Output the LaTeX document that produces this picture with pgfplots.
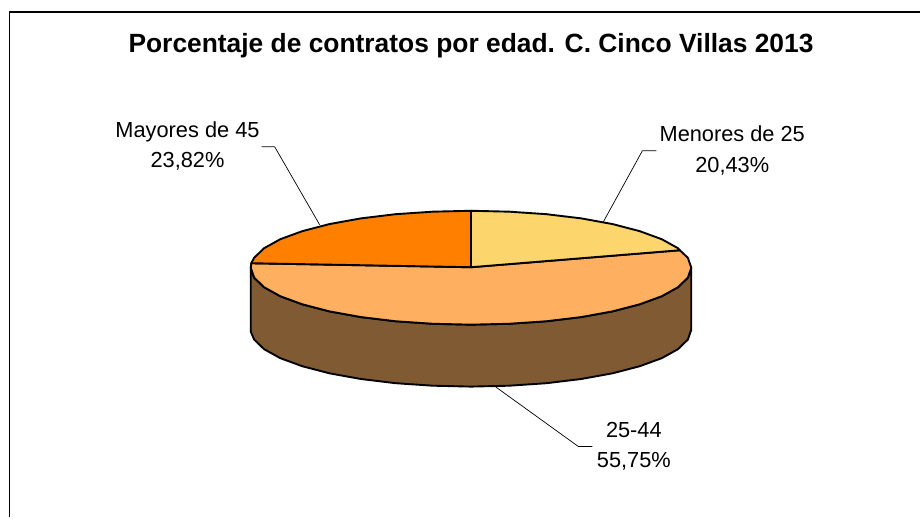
\documentclass[border=0pt]{standalone}
\usepackage{fontspec}
\setmainfont{Liberation Sans}
\usepackage{pgfplots}
\pgfplotsset{compat=1.18}
\definecolor{menores}{HTML}{FCD66C}
\definecolor{medio}{HTML}{FFAF60}
\definecolor{mayores}{HTML}{FF8000}
\definecolor{lado}{HTML}{7F5A33}

\begin{document}
\begin{tikzpicture}
\begin{axis}[
  scale only axis,width=921pt,height=518pt,
  xmin=0,xmax=921,ymin=0,ymax=518,y dir=reverse,
  ticks=none,axis line style={draw=none},clip=false,
  every axis plot/.append style={line join=round}
]
% marco
\addplot[black,line width=1.9pt] coordinates {(9.5,518) (9.5,11.8) (921,11.8)};
% lineas de etiqueta
\addplot[black,line width=0.7pt] coordinates {(262,147) (275,147) (320,225)};
\addplot[black,line width=0.7pt] coordinates {(657,151) (643,151) (604,222)};
\addplot[black,line width=0.7pt] coordinates {(493,385) (579,447) (593,447)};
% lateral
\addplot[fill=lado,draw=black,line width=1.9pt] coordinates {
 (692,268) (688.6,277.9) (678.7,287.5) (662.5,296.5) (640.4,304.6) (613.2,311.7)
 (581.8,317.4) (546.9,321.6) (509.8,324.1) (471.5,325) (433.2,324.1) (396.1,321.6)
 (361.3,317.4) (329.8,311.7) (302.6,304.6) (280.5,296.5) (264.3,287.5) (254.4,277.9)
 (251,268) (251,332) (254.4,339.9) (264.3,349.5) (280.5,358.5) (302.6,366.6)
 (329.8,373.7) (361.3,379.4) (396.1,383.6) (433.2,386.1) (471.5,387) (509.8,386.1)
 (546.9,383.6) (581.8,379.4) (613.2,373.7) (640.4,366.6) (662.5,358.5) (678.7,349.5)
 (688.6,339.9) (692,330) (692,268)} -- cycle;
% 25-44
\addplot[fill=medio,draw=black,line width=1.9pt] coordinates {
 (471.5,267.5) (680.5,250.5) (688.6,258.1) (692,268) (688.6,277.9) (678.7,287.5)
 (662.5,296.5) (640.4,304.6) (613.2,311.7) (581.8,317.4) (546.9,321.6) (509.8,324.1)
 (471.5,325) (433.2,324.1) (396.1,321.6) (361.3,317.4) (329.8,311.7) (302.6,304.6)
 (280.5,296.5) (264.3,287.5) (254.4,277.9) (251,268) (251.5,263.5)} -- cycle;
% mayores de 45
\addplot[fill=mayores,draw=black,line width=1.9pt] coordinates {
 (471.5,267.5) (251.5,263.5) (254.4,258.1) (264.3,248.5) (280.5,239.5) (302.6,231.4)
 (329.8,224.3) (361.3,218.6) (396.1,214.4) (433.2,211.9) (471.5,211)} -- cycle;
% menores de 25
\addplot[fill=menores,draw=black,line width=1.9pt] coordinates {
 (471.5,267.5) (471.5,211) (509.8,211.9) (546.9,214.4) (581.8,218.6) (613.2,224.3)
 (640.4,231.4) (662.5,239.5) (678.7,248.5) (680.5,250.5)} -- cycle;
% textos
\node[anchor=base,font=\bfseries\fontsize{26.4}{30}\selectfont] at (axis cs:471.5,53) {Porcentaje de contratos por edad. C. Cinco Villas 2013};
\node[anchor=base,font=\fontsize{21.8}{26}\selectfont] at (axis cs:187.7,138) {Mayores de 45};
\node[anchor=base,font=\fontsize{21.8}{26}\selectfont] at (axis cs:187.7,168) {23,82\%};
\node[anchor=base,font=\fontsize{21.8}{26}\selectfont] at (axis cs:733,142) {Menores de 25};
\node[anchor=base,font=\fontsize{21.8}{26}\selectfont] at (axis cs:733,172.5) {20,43\%};
\node[anchor=base,font=\fontsize{21.8}{26}\selectfont] at (axis cs:634.5,438) {25-44};
\node[anchor=base,font=\fontsize{21.8}{26}\selectfont] at (axis cs:634.5,468) {55,75\%};
\end{axis}
\end{tikzpicture}
\end{document}
